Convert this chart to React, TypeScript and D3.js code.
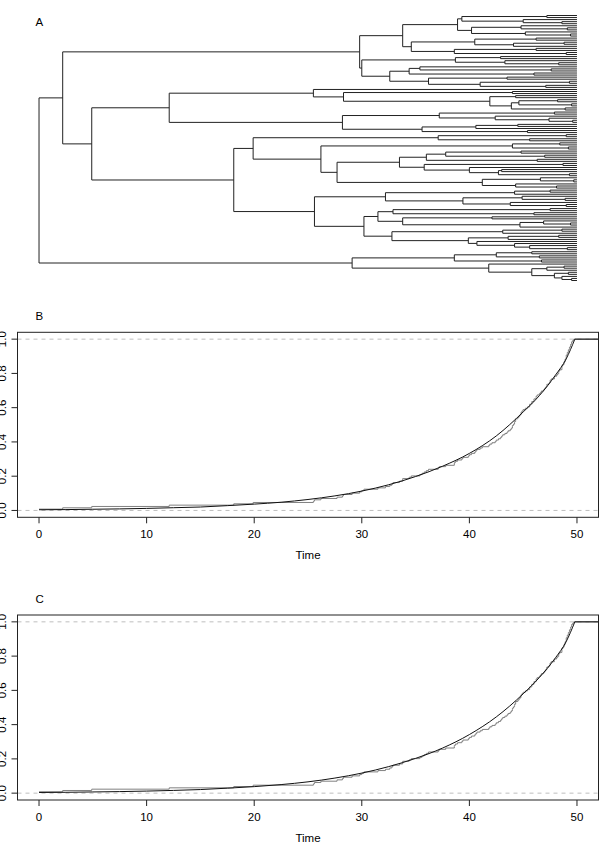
import React from "react";
import * as d3 from "d3";

// divergence time (node age, time units from root) between each pair of adjacent tips, top to bottom
const tipGaps = [
  47.2, 39.3, 45.0, 48.6, 38.9, 44.8, 49.1, 40.2, 45.2, 49.4,
  33.8, 46.2, 40.5, 48.8, 44.1, 34.6, 46.2, 38.6, 49.0, 29.8,
  42.9, 38.7, 43.3, 48.3, 30.0, 35.4, 47.6, 34.4, 46.0, 32.6,
  43.5, 36.2, 49.3, 41.0, 47.1, 2.2, 25.5, 44.0, 28.3, 44.3,
  41.9, 48.2, 44.6, 49.5, 43.9, 48.9, 12.1, 47.9, 37.2, 42.4,
  47.4, 49.6, 28.2, 44.5, 40.6, 35.6, 45.4, 4.9, 49.0, 37.1,
  45.6, 19.9, 48.4, 44.0, 49.2, 26.2, 44.8, 37.8, 47.0, 36.0,
  46.3, 33.5, 48.7, 35.8, 40.0, 43.0, 42.7, 49.3, 27.7, 46.6,
  49.7, 41.2, 44.3, 48.1, 18.1, 47.5, 44.2, 32.2, 44.9, 48.9,
  39.4, 43.8, 49.0, 25.6, 47.5, 32.9, 46.0, 31.5, 42.1, 33.8,
  46.9, 49.4, 44.7, 30.2, 48.6, 43.1, 32.8, 48.3, 43.6, 39.9,
  40.7, 44.2, 45.6, 49.1, 0.0, 45.8, 42.5, 46.5, 38.6, 46.7,
  29.1, 41.8, 48.8, 47.2, 45.8, 49.2, 47.9, 48.6, 49.5,
];
const presentTime = 50;

const timeTicks = [0, 10, 20, 30, 40, 50];
const propTicks = [0, 0.2, 0.4, 0.6, 0.8, 1.0];

const fitTimes = [0, 2.5, 5, 7.5, 10, 12.5, 15, 17.5, 20, 22.5, 25, 27.5, 30, 32.5, 35, 37.5, 40, 42.5, 45, 46.5, 48, 49, 49.8];
const fitB = [0.004, 0.005, 0.007, 0.009, 0.012, 0.016, 0.02, 0.028, 0.037, 0.048, 0.064, 0.085, 0.113, 0.15, 0.198, 0.258, 0.333, 0.435, 0.575, 0.67, 0.79, 0.885, 1.0];
const fitC = [0.004, 0.005, 0.007, 0.009, 0.012, 0.016, 0.021, 0.029, 0.038, 0.05, 0.066, 0.088, 0.117, 0.155, 0.203, 0.263, 0.342, 0.445, 0.58, 0.675, 0.79, 0.885, 1.0];

const W = 601;
const H = 846;
const FONT = "'Liberation Sans', Arial, Helvetica, sans-serif";
const nTips = tipGaps.length + 1;

const x = d3.scaleLinear().domain([-2, 52]).range([17.5, 598.5]);
const tipY = d3.scaleLinear().domain([0, nTips - 1]).range([15.5, 280.5]);

type TreeNode = { t: number; tip?: number; children?: TreeNode[] };

function buildTree(lo: number, hi: number): TreeNode {
  if (lo === hi) return { t: presentTime, tip: lo };
  let g = lo;
  for (let i = lo; i < hi; i++) if (tipGaps[i] < tipGaps[g]) g = i;
  return { t: tipGaps[g], children: [buildTree(lo, g), buildTree(g + 1, hi)] };
}

function treePath() {
  const root: any = d3.hierarchy(buildTree(0, nTips - 1));
  root.eachAfter((n: any) => {
    n.py = n.children ? d3.mean(n.children, (c: any) => c.py) : tipY(n.data.tip);
  });
  const p = d3.path();
  root.each((n: any) => {
    if (!n.children) return;
    const nx = x(n.data.t);
    p.moveTo(nx, n.children[0].py);
    p.lineTo(nx, n.children[1].py);
    n.children.forEach((c: any) => {
      p.moveTo(nx, c.py);
      p.lineTo(x(c.data.t), c.py);
    });
  });
  return p.toString();
}

const nodeTimes = tipGaps.slice().sort(d3.ascending);
const ecdfPts: [number, number][] = nodeTimes.map((t, i) => [t, (i + 1) / (nTips - 1)]);
ecdfPts.push([52, 1]);

function LttPanel({ top, label, fit }: { top: number; label: string; fit: number[] }) {
  const bottom = top + 185;
  const y = d3.scaleLinear().domain([-0.04, 1.04]).range([bottom, top]);
  const step = d3
    .line<[number, number]>()
    .x((d) => x(d[0]))
    .y((d) => y(d[1]))
    .curve(d3.curveStepAfter);
  const smooth = d3
    .line<number>()
    .x((_, i) => x(fitTimes[i]))
    .y((d) => y(d))
    .curve(d3.curveMonotoneX);
  const [x0, x1] = x.range();
  const lastT = fitTimes[fitTimes.length - 1];
  const lastV = fit[fit.length - 1];
  return (
    <g>
      <text x={35.5} y={top - 12.3} fontSize={11.5} fontFamily={FONT}>
        {label}
      </text>
      {[0, 1].map((v) => (
        <line key={v} x1={x0} x2={x1} y1={y(v)} y2={y(v)} stroke="#bebebe" strokeDasharray="4,4" />
      ))}
      <path d={step(ecdfPts) || ""} fill="none" stroke="#808080" strokeWidth={1} />
      <path d={smooth(fit) || ""} fill="none" stroke="#111" strokeWidth={1} />
      <line x1={x(lastT)} x2={x1} y1={y(lastV)} y2={y(lastV)} stroke="#111" />
      <rect x={x0} y={top} width={x1 - x0} height={bottom - top} fill="none" stroke="#222" />
      {timeTicks.map((t) => (
        <g key={t}>
          <line x1={x(t)} x2={x(t)} y1={bottom} y2={bottom + 6} stroke="#222" />
          <text x={x(t)} y={bottom + 21} textAnchor="middle" fontSize={11.5} fontFamily={FONT}>
            {t}
          </text>
        </g>
      ))}
      {propTicks.map((v) => (
        <g key={v}>
          <line x1={x0 - 6} x2={x0} y1={y(v)} y2={y(v)} stroke="#222" />
          <text
            x={6.5}
            y={y(v)}
            transform={`rotate(-90, 6.5, ${y(v)})`}
            textAnchor="middle"
            fontSize={11.5}
            fontFamily={FONT}
          >
            {v.toFixed(1)}
          </text>
        </g>
      ))}
      <text x={(x0 + x1) / 2} y={bottom + 41.5} textAnchor="middle" fontSize={11.5} fontFamily={FONT}>
        Time
      </text>
    </g>
  );
}

export default function App() {
  return (
    <svg
      width={W}
      height={H}
      style={{ position: "absolute", left: 0, top: 0, background: "#fff" }}
    >
      <text x={35.5} y={26} fontSize={11.5} fontFamily={FONT}>
        A
      </text>
      <path d={treePath()} fill="none" stroke="#222" strokeWidth={1} />
      <LttPanel top={332.3} label="B" fit={fitB} />
      <LttPanel top={615} label="C" fit={fitC} />
    </svg>
  );
}
